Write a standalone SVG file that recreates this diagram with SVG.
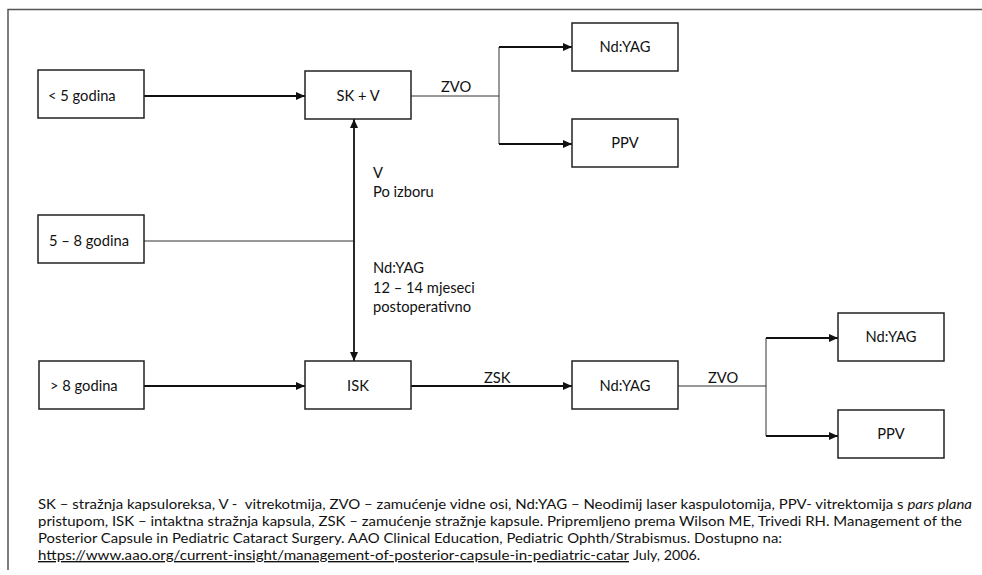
<svg xmlns="http://www.w3.org/2000/svg" width="982" height="575" viewBox="0 0 982 575">
<style>
  .box{fill:#fff;stroke:#222;stroke-width:1.5}
  .t{font-family:Lato,"Liberation Sans",sans-serif;font-size:14.7px;fill:#111}
  .c{text-anchor:middle}
  .thick{fill:none;stroke:#111;stroke-width:1.8}
  .thin{fill:none;stroke:#333;stroke-width:1}
  .foot{font-family:Lato,"Liberation Sans",sans-serif;font-size:13.8px;fill:#111;white-space:pre}
</style>
<defs>
  <marker id="ah" markerWidth="10" markerHeight="10" refX="9" refY="5" orient="auto" markerUnits="userSpaceOnUse">
    <path d="M0,1 L9,5 L0,9 Z" fill="#111"/>
  </marker>
</defs>
<rect x="0" y="0" width="982" height="575" fill="#fff"/>
<path d="M8,570 V9.5 H982" fill="none" stroke="#555" stroke-width="1.5"/>

<g id="connectors">
  <path class="thick" d="M144,96 H305" marker-end="url(#ah)"/>
  <path class="thin" d="M411,96 H499"/>
  <path class="thin" d="M499,47 V144"/>
  <path class="thick" d="M499,47 H572" marker-end="url(#ah)"/>
  <path class="thick" d="M499,144 H572" marker-end="url(#ah)"/>
  <path class="thin" d="M144,241 H354"/>
  <path class="thick" d="M354,241 V119" marker-end="url(#ah)"/>
  <path class="thick" d="M354,241 V361" marker-end="url(#ah)"/>
  <path class="thick" d="M144,386 H305" marker-end="url(#ah)"/>
  <path class="thick" d="M411,386 H572" marker-end="url(#ah)"/>
  <path class="thin" d="M678,386 H766"/>
  <path class="thin" d="M766,338 V436"/>
  <path class="thick" d="M766,338 H838" marker-end="url(#ah)"/>
  <path class="thick" d="M766,436 H838" marker-end="url(#ah)"/>
  <text class="t" x="441" y="92">ZVO</text>
  <text class="t" x="373" y="178">V</text>
  <text class="t" x="373" y="197">Po izboru</text>
  <text class="t" x="373" y="273">Nd:YAG</text>
  <text class="t" x="373" y="293">12 – 14 mjeseci</text>
  <text class="t" x="373" y="312">postoperativno</text>
  <text class="t" x="484" y="383">ZSK</text>
  <text class="t" x="708" y="383">ZVO</text>
</g>

<g id="n-lt5"><rect class="box" x="38" y="70" width="106" height="48"/><text class="t" x="48" y="101">&lt; 5 godina</text></g>
<g id="n-skv"><rect class="box" x="305" y="71" width="106" height="48"/><text class="t c" x="358" y="101">SK + V</text></g>
<g id="n-ndyag1"><rect class="box" x="572" y="23" width="106" height="48"/><text class="t c" x="625" y="52">Nd:YAG</text></g>
<g id="n-ppv1"><rect class="box" x="572" y="119" width="106" height="48"/><text class="t c" x="625" y="148">PPV</text></g>
<g id="n-5to8"><rect class="box" x="38" y="215" width="106" height="48"/><text class="t" x="49" y="246">5 – 8 godina</text></g>
<g id="n-gt8"><rect class="box" x="39" y="361" width="105" height="48"/><text class="t" x="50" y="391">&gt; 8 godina</text></g>
<g id="n-isk"><rect class="box" x="305" y="361" width="106" height="48"/><text class="t c" x="358" y="391">ISK</text></g>
<g id="n-ndyag2"><rect class="box" x="572" y="361" width="106" height="48"/><text class="t c" x="625" y="391">Nd:YAG</text></g>
<g id="n-ndyag3"><rect class="box" x="838" y="313" width="106" height="48"/><text class="t c" x="891" y="342">Nd:YAG</text></g>
<g id="n-ppv2"><rect class="box" x="838" y="410" width="106" height="48"/><text class="t c" x="891" y="439">PPV</text></g>

<g id="footer">
  <text class="foot" x="38" y="509" textLength="934" lengthAdjust="spacingAndGlyphs">SK – stražnja kapsuloreksa, V -  vitrekotmija, ZVO – zamućenje vidne osi, Nd:YAG – Neodimij laser kaspulotomija, PPV- vitrektomija s <tspan font-style="italic">pars plana</tspan></text>
  <text class="foot" x="38" y="526" textLength="924" lengthAdjust="spacingAndGlyphs">pristupom, ISK – intaktna stražnja kapsula, ZSK – zamućenje stražnje kapsule. Pripremljeno prema Wilson ME, Trivedi RH. Management of the</text>
  <text class="foot" x="38" y="543" textLength="744" lengthAdjust="spacingAndGlyphs">Posterior Capsule in Pediatric Cataract Surgery. AAO Clinical Education, Pediatric Ophth/Strabismus. Dostupno na:</text>
  <text class="foot" x="38" y="560" textLength="591" lengthAdjust="spacingAndGlyphs" text-decoration="underline">https://www.aao.org/current-insight/management-of-posterior-capsule-in-pediatric-catar</text>
  <text class="foot" x="633" y="560" textLength="67" lengthAdjust="spacingAndGlyphs">July, 2006.</text>
</g>
</svg>
